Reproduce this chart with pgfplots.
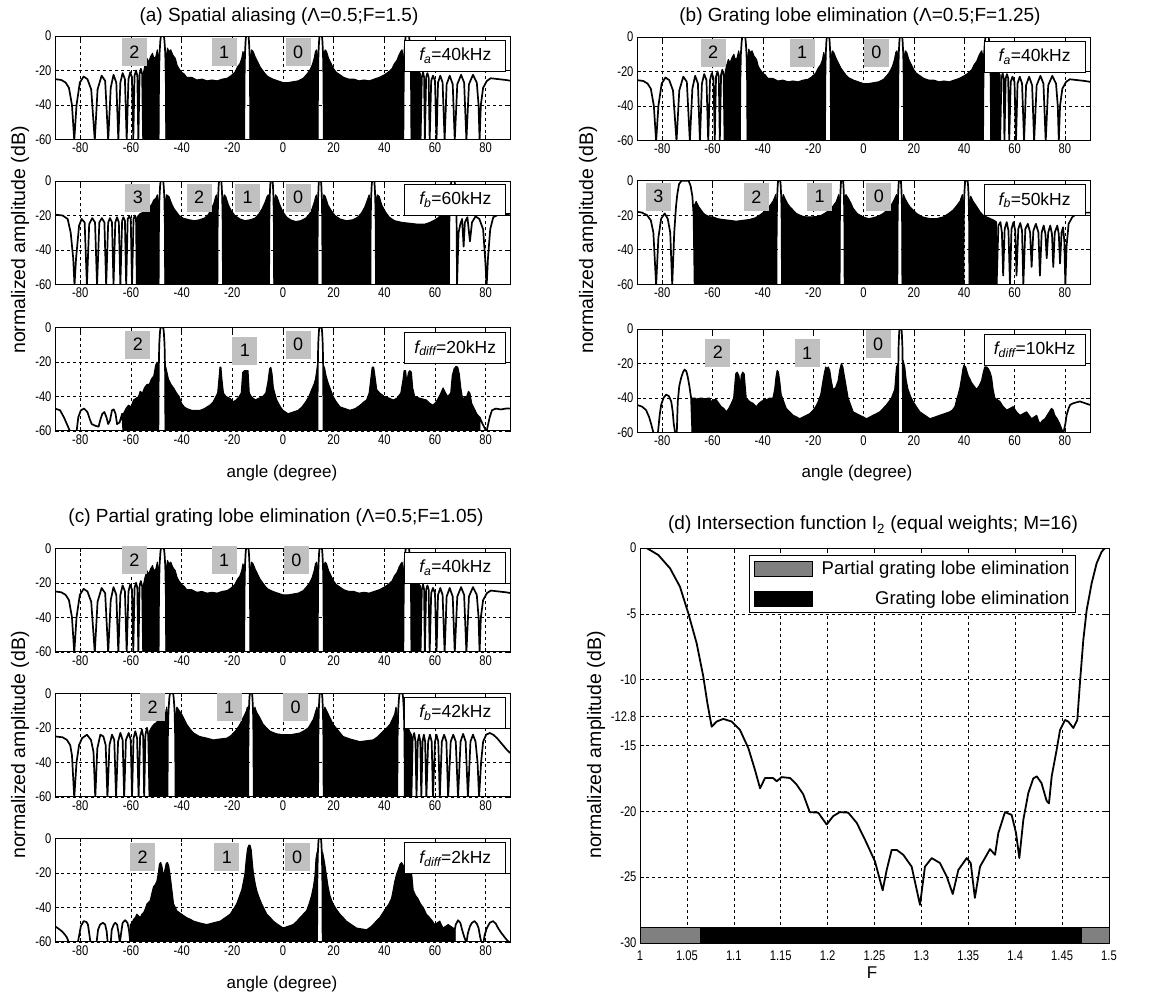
\documentclass[border=0pt]{standalone}
\usepackage{pgfplots}
\pgfplotsset{compat=1.18}
\usepackage{fontspec}
\setmainfont{Liberation Sans}
\newfontfamily\tickfam[FakeStretch=0.8]{Liberation Sans}
\newcommand\tickfont{\tickfam\fontsize{14}{15}\selectfont}
\definecolor{boxgray}{RGB}{192,192,192}
\definecolor{bargray}{RGB}{128,128,128}

\pgfplotsset{
  beam/.style={scale only axis, width=456pt, height=103.5pt,
    xmin=-90, xmax=90, ymin=-60, ymax=0,
    xtick={-80,-60,-40,-20,0,20,40,60,80}, xticklabels={-80,-60,-40,-20,0,20,40,60,80},
    ytick={-60,-40,-20,0}, yticklabels={-60,-40,-20,0},
    grid=major, grid style={black, line width=0.6pt, dash pattern=on 3pt off 3pt},
    axis line style={black, line width=1pt}, tick style={black, line width=0.6pt},
    major tick length=4pt, tick align=inside,
    ticklabel style={font=\tickfont, text=black},
    clip mode=individual},
  lobe/.style={black, line width=1.7pt, line join=round, mark=none},
  dense/.style={black, fill=black, line width=1pt, line join=round, mark=none},
}
\tikzset{
  lgd/.style={draw=black, fill=white, line width=0.9pt, minimum width=101pt, minimum height=31pt, inner sep=0pt, font=\fontsize{17.5}{18}\selectfont},
  nb/.style={fill=boxgray, minimum width=25pt, minimum height=28pt, inner sep=0pt, font=\fontsize{18}{18}\selectfont},
  ttl/.style={font=\fontsize{19}{22}\selectfont},
  xl/.style={font=\fontsize{17}{20}\selectfont},
  yl/.style={font=\fontsize{19.5}{22}\selectfont, rotate=90},
}

% ---------- pattern at 40 kHz (panels a, b, c top) ----------
\newcommand\fortykhz{%
\addplot[dense] coordinates {(-55.2,-60)(-55.2,-22)(-54.5,-17)(-53.7,-13)(-53,-15)(-52.3,-12)(-51.5,-10)(-51,-13)(-50.2,-12)(-49.6,-8)(-49.1,-12)(-49.1,-60)};
\addplot[dense] coordinates {(-46.1,-60)(-46.1,-12)(-45.6,-7)(-45,-9)(-44.3,-8)(-43.5,-11)(-42.5,-13)(-41.8,-17)(-41,-19)(-40,-21)(-39,-22)(-38,-24)(-36,-24)(-34,-25.5)(-32,-25)(-30,-26)(-28,-25.5)(-26,-26)(-24,-25)(-22,-24.5)(-20.5,-23)(-19,-21)(-18,-18)(-17,-16)(-16.3,-13)(-15.8,-9)(-15.3,-12)(-15.3,-60)};
\addplot[dense] coordinates {(-12.9,-60)(-12.9,-12)(-12.4,-8)(-11.8,-9)(-11,-12)(-10,-15)(-9,-18)(-8,-20)(-7,-22)(-6,-23.5)(-4,-25)(-2,-26)(0,-27)(2,-27)(4,-26.5)(6,-26)(8,-24.5)(9.5,-22)(10.5,-20)(11.5,-17)(12.3,-13)(12.8,-9)(13.3,-8)(13.7,-12)(13.7,-60)};
\addplot[dense] coordinates {(16.1,-60)(16.1,-12)(16.6,-8)(17.2,-9)(18,-13)(19,-16)(20,-19)(21,-21)(22,-22)(24,-24)(26,-25)(28,-25)(30,-26)(32,-25.5)(34,-26)(36,-25)(38,-24)(40,-22.5)(41.5,-21)(43,-19)(44,-16)(45,-14)(45.8,-11)(46.5,-9)(47,-8)(47.5,-12)(47.5,-60)};
\addplot[dense] coordinates {(50.7,-60)(50.7,-10)(51.6,-14)(52.5,-18)(53.5,-20)(54.3,-22)(54.3,-60)};
\addplot[lobe] coordinates {(-90,-25)(-87.5,-25.5)(-85.8,-27)(-84.5,-30)(-83.3,-40)(-82.4,-60.5)(-81.5,-40)(-80.2,-27)(-78.7,-23.5)(-77.2,-25)(-75.7,-31)(-74.3,-60.5)(-73.2,-31)(-71.6,-23)(-70.2,-26)(-69,-60.5)(-68,-30)(-66.9,-22.5)(-65.8,-27)(-65,-60.5)(-64.2,-27)(-63.3,-21.5)(-62.4,-25)(-61.7,-60.5)(-61,-25)(-60.3,-21)(-59.6,-24)(-59.1,-60.5)(-58.6,-23)(-58,-20)(-57.5,-23)(-57.1,-60.5)(-56.6,-22)(-56.1,-19)(-55.6,-22)(-55.2,-60.5)(-49.1,-60.5)(-48.95,-25)(-48.725,-10)(-48.425,-3)(-48.2,0)(-47.0,0)(-46.775,-3)(-46.475,-10)(-46.25,-25)(-46.1,-60.5)(-15.3,-60.5)(-15.18,-25)(-15.0,-10)(-14.76,-3)(-14.58,0)(-13.62,0)(-13.44,-3)(-13.2,-10)(-13.02,-25)(-12.9,-60.5)(13.7,-60.5)(13.82,-25)(14.0,-10)(14.24,-3)(14.42,0)(15.38,0)(15.56,-3)(15.8,-10)(15.98,-25)(16.1,-60.5)(47.5,-60.5)(47.66,-25)(47.9,-10)(48.22,-3)(48.46,0)(49.74,0)(49.98,-3)(50.3,-10)(50.54,-25)(50.7,-60.5)(54.3,-60.5)(54.8,-24)(55.3,-21)(55.7,-24)(56,-60.5)(56.5,-24)(57,-21.5)(57.5,-24)(57.9,-60.5)(58.5,-26)(59.2,-23)(60,-26)(60.6,-60.5)(61.2,-27)(62.1,-23)(63,-27)(63.8,-60.5)(64.6,-28)(65.8,-23)(67,-28)(67.8,-60.5)(68.8,-28)(70.3,-22.5)(71.5,-27)(72.4,-60.5)(73.4,-28)(75,-22.5)(76.5,-27)(77.2,-40)(77.6,-60.5)(78.1,-40)(79,-30)(80.5,-26)(82,-24.5)(85,-25)(88,-25.5)(90,-26)};
}

\begin{document}
\begin{tikzpicture}
\path[use as bounding box] (0pt,0pt) rectangle (1162pt,-991pt);

% ================= (a) =================
\node[ttl] at (279pt,-17pt) {(a) Spatial aliasing (Λ=0.5;F=1.5)};
\begin{axis}[beam, at={(55pt,-36pt)}, anchor=north west]
\fortykhz
\node[nb] at (axis cs:-58.7,-9.5) {2};
\node[nb] at (axis cs:-23.2,-9.5) {1};
\node[nb] at (axis cs:6.0,-9.5) {0};
\node[lgd] at (axis cs:68,-11.3) {{\itshape f}\textsubscript{\itshape a}=40kHz};
\end{axis}

\begin{axis}[beam, at={(55pt,-181pt)}, anchor=north west]
\addplot[dense] coordinates {(-57.7,-60)(-57.7,-21)(-56.5,-19)(-55,-18)(-53.5,-16)(-52,-14)(-51,-11)(-50.2,-10)(-49.6,-8)(-49.1,-12)(-49.1,-60)};
\addplot[dense] coordinates {(-46.5,-60)(-46.5,-12)(-46,-8)(-45,-9)(-44,-13)(-43,-16)(-42,-18)(-41,-20)(-39.5,-21.5)(-37,-22.5)(-35,-23)(-33,-22.5)(-31,-21.5)(-29.5,-19.5)(-28.3,-16)(-27.3,-13)(-26.6,-9)(-26.2,-8)(-25.9,-12)(-25.9,-60)};
\addplot[dense] coordinates {(-23.7,-60)(-23.7,-12)(-23.2,-8)(-22.6,-9)(-21.5,-14)(-20.5,-17)(-19,-20)(-17,-22)(-15,-23)(-13,-22.5)(-11,-21.5)(-9.5,-19)(-8.2,-16)(-7,-12)(-6.3,-9)(-5.8,-8)(-5.5,-12)(-5.5,-60)};
\addplot[dense] coordinates {(-3.5,-60)(-3.5,-12)(-3,-8)(-2.4,-9)(-1.2,-14)(0,-18)(1.5,-21)(3,-22.5)(5,-23.5)(7,-23)(9,-21.5)(10.5,-19)(11.5,-16)(12.4,-12)(12.9,-9)(13.3,-8)(13.6,-12)(13.6,-60)};
\addplot[dense] coordinates {(15.6,-60)(15.6,-12)(16.1,-8)(16.7,-9)(17.8,-14)(19,-17)(20.5,-20)(22.5,-22)(25,-23)(27.5,-22.5)(29.5,-21)(31,-18.5)(32.3,-15)(33.3,-11)(34,-8)(34.5,-12)(34.5,-60)};
\addplot[dense] coordinates {(36.7,-60)(36.7,-12)(37.2,-8)(38,-9)(39,-14)(40.5,-18)(42,-21)(44,-23)(47,-24)(50,-24.5)(53,-25)(56,-25)(58,-24)(60,-22.5)(61.5,-21)(62.8,-18)(63.8,-14)(64.5,-10)(65,-8)(65.5,-12)(65.5,-60)};
\addplot[lobe] coordinates {(-90,-19.5)(-87,-20)(-85,-22)(-83.8,-30)(-82.8,-45)(-82.3,-60.5)(-81.7,-45)(-80.5,-26)(-79.5,-22)(-78.3,-24)(-77.4,-60.5)(-76.5,-25)(-75.3,-21.5)(-74.2,-24)(-73.4,-60.5)(-72.5,-24)(-71.5,-21.5)(-70.5,-24)(-69.8,-60.5)(-69,-24)(-68.3,-21.5)(-67.5,-24)(-66.9,-60.5)(-66.2,-24)(-65.5,-21)(-64.8,-24)(-64.2,-60.5)(-63.5,-23)(-63,-21)(-62.4,-23)(-61.9,-60.5)(-61.3,-22)(-60.7,-20.5)(-60.1,-22)(-59.6,-60.5)(-59,-22)(-58.5,-20)(-58,-22)(-57.7,-60.5)(-49.1,-60.5)(-48.97,-25)(-48.775,-10)(-48.515,-3)(-48.32,0)(-47.28,0)(-47.085,-3)(-46.825,-10)(-46.63,-25)(-46.5,-60.5)(-25.9,-60.5)(-25.79,-25)(-25.625,-10)(-25.405,-3)(-25.24,0)(-24.36,0)(-24.195,-3)(-23.975,-10)(-23.81,-25)(-23.7,-60.5)(-5.5,-60.5)(-5.4,-25)(-5.25,-10)(-5.05,-3)(-4.9,0)(-4.1,0)(-3.95,-3)(-3.75,-10)(-3.6,-25)(-3.5,-60.5)(13.6,-60.5)(13.7,-25)(13.85,-10)(14.05,-3)(14.2,0)(15,0)(15.15,-3)(15.35,-10)(15.5,-25)(15.6,-60.5)(34.5,-60.5)(34.61,-25)(34.775,-10)(34.995,-3)(35.16,0)(36.04,0)(36.205,-3)(36.425,-10)(36.59,-25)(36.7,-60.5)(65.5,-60.5)(65.66,-25)(65.9,-10)(66.22,-3)(66.46,0)(67.74,0)(67.98,-3)(68.3,-10)(68.54,-25)(68.7,-60.5)(69.3,-30)(70,-25)(70.7,-22)(71.3,-38)(71.8,-24)(72.8,-21)(73.8,-35)(74.6,-24)(76,-20.5)(77.5,-22)(79,-28)(79.8,-45)(80.4,-60.5)(80.9,-45)(81.8,-28)(83,-21)(85,-19.5)(90,-19)};
\node[nb] at (axis cs:-57.3,-9.6) {3};
\node[nb] at (axis cs:-33.1,-9.6) {2};
\node[nb] at (axis cs:-14,-9.6) {1};
\node[nb] at (axis cs:6.0,-9.6) {0};
\node[lgd] at (axis cs:68,-11.1) {{\itshape f}\textsubscript{\itshape b}=60kHz};
\end{axis}

\begin{axis}[beam, at={(55pt,-327.5pt)}, anchor=north west]
\addplot[dense] coordinates {(-63,-60)(-63,-50)(-62,-47)(-61,-45)(-60,-46)(-59,-42)(-58,-41)(-57,-40)(-56.4,-37)(-55.5,-38)(-54.7,-35)(-53.7,-33)(-52.8,-33)(-52,-30)(-51,-28)(-50.3,-22)(-49.7,-20)(-49.2,-25)(-49.2,-60)};
\addplot[dense] coordinates {(-46.4,-60)(-46.4,-22)(-45.8,-26)(-45.2,-30)(-44.2,-33)(-43.2,-35)(-42,-38)(-41,-40)(-40,-44)(-39,-46)(-38,-47)(-36,-48)(-34,-48)(-32.7,-48)(-31,-47)(-30,-46)(-28.8,-45)(-27.5,-43)(-26.5,-40)(-25.8,-38)(-25.3,-30)(-24.9,-23)(-24.5,-23)(-24.1,-30)(-23.5,-38)(-22.5,-40)(-21,-41)(-19.6,-43)(-18.5,-42)(-17.3,-40)(-16.5,-38)(-15.9,-26)(-15.2,-25)(-14.5,-25)(-13.8,-25)(-13.3,-38)(-12.5,-40)(-11,-42)(-9.5,-41)(-8,-40)(-6.8,-38)(-6,-32)(-5.3,-24)(-4.8,-23)(-4.3,-27)(-3.8,-35)(-2.5,-42)(-1,-46)(0,-48)(2,-50)(4,-49)(6,-48)(7.5,-46)(9,-43)(10.2,-40)(11.3,-36)(12.2,-33)(12.8,-30)(13.3,-25)(13.6,-22)(13.6,-60)};
\addplot[dense] coordinates {(16,-60)(16,-22)(16.5,-24)(17,-28)(17.8,-32)(18.8,-36)(19.8,-40)(21,-43)(22.5,-46)(24.5,-47)(26.4,-48)(28.5,-47)(30.5,-45)(32,-43)(33,-42)(34,-38)(34.8,-28)(35.2,-23)(35.8,-23)(36.3,-28)(37,-36)(38.2,-38)(40,-40)(42,-41)(43.5,-42)(45,-41)(46.5,-38)(47.4,-30)(47.8,-25)(48.4,-25)(48.9,-32)(49.5,-26)(50.1,-25)(50.7,-26)(51.2,-35)(52,-40)(54,-41)(56.6,-42)(58,-44)(59.2,-45)(60.5,-43)(62,-39)(63.2,-35)(64.2,-38)(65,-40)(66.2,-38)(66.8,-28)(67.5,-24)(68.3,-22.5)(69,-23)(69.6,-27)(70.2,-35)(71,-42)(71.7,-40)(72.5,-40)(73.2,-37)(73.8,-38)(74.5,-44)(75.5,-47)(76.5,-50)(77.6,-52)(77.6,-60)};
\addplot[lobe] coordinates {(-90,-47)(-88,-48)(-86.5,-52)(-85,-57)(-84,-60.5)(-81.5,-60.5)(-80.8,-52)(-79.8,-48)(-78.5,-47)(-77.2,-49)(-76.3,-53)(-75.5,-56)(-74,-57)(-72.8,-57.5)(-72,-53)(-71.3,-50)(-70.5,-49)(-69.7,-52)(-69,-56)(-68.3,-54)(-67.5,-48)(-66.8,-47.5)(-66.1,-50)(-65.5,-56)(-64.5,-55)(-63.5,-50)(-63,-60.5)(-49.2,-60.5)(-49.06,-25)(-48.85,-10)(-48.57,-3)(-48.36,0)(-47.24,0)(-47.03,-3)(-46.75,-10)(-46.54,-25)(-46.4,-60.5)(13.6,-60.5)(13.72,-25)(13.9,-10)(14.14,-3)(14.32,0)(15.28,0)(15.46,-3)(15.7,-10)(15.88,-25)(16,-60.5)(77.6,-60.5)(77.6,-52)(78.5,-55)(79.5,-58)(80.3,-60.5)(81,-56)(81.6,-52)(82.5,-48)(84,-47)(86,-47.5)(88,-47)(90,-47)};
\node[nb] at (axis cs:-57.3,-9.9) {2};
\node[nb] at (axis cs:-15,-13.4) {1};
\node[nb] at (axis cs:6.0,-9.9) {0};
\node[lgd] at (axis cs:68,-12) {{\itshape f}\textsubscript{\itshape diff}=20kHz};
\end{axis}
\node[yl] at (20pt,-240pt) {normalized amplitude (dB)};
\node[xl] at (282pt,-473pt) {angle (degree)};

% ================= (b) =================
\node[ttl] at (860pt,-17pt) {(b) Grating lobe elimination (Λ=0.5;F=1.25)};
\begin{axis}[beam, width=453pt, at={(637pt,-37pt)}, anchor=north west]
\fortykhz
\node[nb] at (axis cs:-59.8,-9.1) {2};
\node[nb] at (axis cs:-24.4,-9.1) {1};
\node[nb] at (axis cs:5.1,-9.1) {0};
\node[lgd] at (axis cs:68,-11.3) {{\itshape f}\textsubscript{\itshape a}=40kHz};
\end{axis}

\begin{axis}[beam, width=453pt, at={(637pt,-180.7pt)}, anchor=north west]
\addplot[dense] coordinates {(-67.1,-60)(-67.1,-14)(-66.5,-12)(-65.5,-15)(-64.5,-17)(-63.5,-19)(-62.5,-20)(-61,-21)(-59.8,-21)(-58,-22)(-55.9,-22.5)(-53,-23)(-50.6,-23.5)(-48,-23)(-45.3,-22.5)(-43,-21.5)(-41.3,-20)(-39.5,-18)(-38,-16)(-37,-14)(-36,-12)(-35.4,-10)(-34.9,-8)(-34.6,-12)(-34.6,-60)};
\addplot[dense] coordinates {(-32.4,-60)(-32.4,-12)(-31.9,-8)(-31.3,-10)(-30.3,-13)(-29.3,-15)(-28,-17)(-26.7,-19)(-24.5,-20.5)(-22.7,-21)(-20,-21)(-17.4,-20.5)(-15.5,-19)(-13.4,-17)(-12,-14.5)(-10.8,-12)(-10.1,-9)(-9.8,-8)(-9.5,-12)(-9.5,-60)};
\addplot[dense] coordinates {(-7.5,-60)(-7.5,-12)(-7,-8)(-6.1,-10)(-5,-13)(-4.1,-16)(-2.5,-19)(-0.2,-21)(2,-22)(3.8,-21.5)(6,-20.5)(7.8,-19)(9.5,-17)(11.1,-14)(12.2,-11)(12.8,-9)(13.2,-8)(13.45,-12)(13.45,-60)};
\addplot[dense] coordinates {(15.45,-60)(15.45,-12)(15.9,-8)(16.4,-10)(17.5,-13)(18.4,-15)(19.7,-17)(21.1,-19)(23.5,-21)(26.4,-22)(29,-22)(31.7,-21)(33.8,-19)(35.6,-17)(37,-14.5)(38.3,-12)(38.9,-9.5)(39.3,-8)(39.7,-12)(39.7,-60)};
\addplot[dense] coordinates {(42.1,-60)(42.1,-12)(42.6,-9)(43.6,-12)(45,-15)(46.3,-18)(47.5,-20)(48.9,-21)(50.5,-22)(52,-23)(52.9,-24)(52.9,-60)};
\addplot[lobe] coordinates {(-90,-18)(-88,-18.5)(-86,-20)(-84.5,-23)(-83.5,-30)(-82.4,-60.5)(-81.5,-33)(-80.4,-22)(-79,-19)(-77.8,-22)(-76.8,-30)(-76,-60.5)(-75.2,-30)(-74.5,-15)(-74,-8)(-73.3,-2)(-72.3,0)(-69.5,0)(-68.7,-3)(-68,-9)(-67.5,-20)(-67.1,-60.5)(-34.6,-60.5)(-34.49,-25)(-34.325,-10)(-34.105,-3)(-33.94,0)(-33.06,0)(-32.895,-3)(-32.675,-10)(-32.51,-25)(-32.4,-60.5)(-9.5,-60.5)(-9.4,-25)(-9.25,-10)(-9.05,-3)(-8.9,0)(-8.1,0)(-7.95,-3)(-7.75,-10)(-7.6,-25)(-7.5,-60.5)(13.45,-60.5)(13.55,-25)(13.7,-10)(13.9,-3)(14.05,0)(14.85,0)(15,-3)(15.2,-10)(15.35,-25)(15.45,-60.5)(39.7,-60.5)(39.82,-25)(40,-10)(40.24,-3)(40.42,0)(41.38,0)(41.56,-3)(41.8,-10)(41.98,-25)(42.1,-60.5)(52.9,-60.5)(53.6,-26)(54.4,-24)(55,-30)(55.5,-55)(56.1,-28)(56.9,-24)(57.6,-29)(58.2,-60.5)(58.8,-28)(59.6,-24)(60.3,-29)(60.8,-55)(61.5,-28)(62.3,-24.5)(63,-29)(63.5,-60.5)(64.3,-28)(65.3,-25)(66.2,-30)(66.8,-50)(67.5,-29)(68.5,-25)(69.5,-30)(70.1,-55)(70.8,-30)(71.6,-26)(72.3,-31)(72.8,-45)(73.4,-30)(74.2,-26)(74.9,-31)(75.4,-50)(76,-30)(77,-26)(77.6,-31)(78.1,-48)(78.7,-30)(79.3,-27)(79.8,-35)(80.2,-60.5)(80.7,-38)(81.5,-25)(83,-21)(85,-19)(88,-18.5)(90,-18.5)};
\node[nb] at (axis cs:-81.5,-9.3) {3};
\node[nb] at (axis cs:-42.6,-9.3) {2};
\node[nb] at (axis cs:-17.4,-9.3) {1};
\node[nb] at (axis cs:6.1,-9.3) {0};
\node[lgd] at (axis cs:68,-11.3) {{\itshape f}\textsubscript{\itshape b}=50kHz};
\end{axis}

\begin{axis}[beam, width=453pt, at={(637pt,-329pt)}, anchor=north west]
\addplot[dense] coordinates {(-68,-60)(-68,-40)(-67,-40)(-66,-41)(-65,-40)(-64,-40)(-63,-41)(-62,-40)(-61.2,-40)(-60.5,-42)(-59.5,-41)(-58.5,-41)(-57.5,-43)(-56.5,-45)(-55.5,-46)(-54.5,-48)(-53.5,-46)(-52.5,-43)(-51.6,-40)(-51.2,-33)(-50.8,-26)(-50.2,-25)(-49.5,-27)(-49,-33)(-48.6,-27)(-48,-25)(-47.4,-26)(-47,-33)(-46.6,-40)(-45.3,-42)(-44,-43)(-42.6,-45)(-41.5,-43)(-40.6,-42)(-39.5,-41)(-38.6,-41)(-37.3,-40)(-36,-40)(-35.3,-35)(-34.8,-28)(-34.3,-24)(-33.8,-25)(-33.3,-30)(-32.7,-38)(-31.7,-42)(-30.7,-46)(-29.3,-48)(-28,-50)(-26.5,-51)(-25.4,-52)(-24,-51)(-22.7,-50)(-21.3,-49)(-20,-47)(-19,-45)(-18,-42)(-17,-38)(-16.1,-30)(-15.5,-25)(-15,-22)(-14.5,-23)(-14,-22)(-13.4,-24)(-12.8,-30)(-12.1,-35)(-11.1,-34)(-10.1,-30)(-9.5,-24)(-8.8,-20)(-8.2,-22)(-7.5,-28)(-6.8,-34)(-6.1,-40)(-5.1,-44)(-4.1,-48)(-2.8,-49)(-1.5,-50)(0,-51)(1.2,-52)(2.5,-51)(3.8,-50)(5.2,-49)(6.5,-48)(7.8,-46)(9.1,-44)(10.1,-42)(11.1,-40)(12.4,-35)(13.1,-22)(13.7,-20)(13.7,-60)};
\addplot[dense] coordinates {(15.7,-60)(15.7,-18)(16.4,-22)(17,-30)(17.7,-35)(18.7,-39)(19.7,-42)(21,-45)(22.4,-48)(24.4,-50)(26.4,-52)(28.4,-51)(30.3,-50)(32.3,-49)(34.3,-48)(35.3,-47)(36.3,-45)(37,-41)(37.6,-38)(38.3,-34)(39,-28)(39.5,-23)(39.9,-21)(40.6,-22)(41.6,-27)(42.3,-29)(42.9,-31)(43.9,-33)(44.9,-35)(45.9,-33)(46.9,-30)(47.6,-25)(48.2,-22)(48.9,-22)(49.6,-23)(50.3,-25)(50.9,-28)(51.5,-35)(52.2,-40)(53.2,-41)(54.2,-42)(55.5,-45)(56.9,-47)(58.2,-46)(59.5,-45)(60.8,-48)(62.2,-50)(63.5,-49)(64.8,-48)(65.8,-50)(66.8,-52)(67.8,-51)(68.8,-50)(69.5,-53)(70.1,-55)(71.1,-53)(72.1,-52)(73.4,-49)(74.7,-46)(75.4,-47)(76,-50)(77,-52)(78,-55)(78.8,-58)(79.4,-60)};
\addplot[lobe] coordinates {(-90,-44)(-88,-45)(-86.4,-47)(-85.2,-51)(-84.4,-55)(-83.4,-60.5)(-81.7,-60.5)(-81,-50)(-80.4,-44)(-79.5,-40)(-78.4,-38)(-77.3,-39)(-76.4,-42)(-75.8,-48)(-75.4,-55)(-74.8,-60.5)(-74.2,-60.5)(-73.8,-42)(-73.2,-33)(-72.4,-28)(-71.7,-25)(-71.1,-23.5)(-70.4,-24.5)(-69.8,-28)(-69.2,-33)(-68.5,-40)(-68,-60.5)(13.7,-60.5)(13.8,-25)(13.95,-10)(14.15,-3)(14.3,0)(15.1,0)(15.25,-3)(15.45,-10)(15.6,-25)(15.7,-60.5)(79.4,-60.5)(80.2,-55)(80.7,-50)(81.5,-46)(82.1,-44)(83.4,-43)(86,-42)(88,-43)(90,-44)};
\node[nb] at (axis cs:-57.9,-13.7) {2};
\node[nb] at (axis cs:-22.4,-14) {1};
\node[nb] at (axis cs:5.8,-8.7) {0};
\node[lgd] at (axis cs:68,-12) {{\itshape f}\textsubscript{\itshape diff}=10kHz};
\end{axis}
\node[yl] at (588pt,-240pt) {normalized amplitude (dB)};
\node[xl] at (857pt,-473pt) {angle (degree)};

% ================= (c) =================
\node[ttl] at (276pt,-518pt) {(c) Partial grating lobe elimination (Λ=0.5;F=1.05)};
\begin{axis}[beam, at={(55pt,-548.3pt)}, anchor=north west]
\fortykhz
\node[nb] at (axis cs:-58.7,-7) {2};
\node[nb] at (axis cs:-23.2,-7) {1};
\node[nb] at (axis cs:5.3,-7) {0};
\node[lgd] at (axis cs:68,-11.3) {{\itshape f}\textsubscript{\itshape a}=40kHz};
\end{axis}

\begin{axis}[beam, at={(55pt,-693.3pt)}, anchor=north west]
\addplot[dense] coordinates {(-52.7,-60)(-52.7,-22)(-52,-20)(-51,-18)(-50,-17)(-49,-15)(-48,-14)(-47,-12)(-46.3,-11)(-45.9,-8)(-45.6,-12)(-45.6,-60)};
\addplot[dense] coordinates {(-42.4,-60)(-42.4,-12)(-41.9,-8)(-41,-10)(-40,-12)(-39,-15)(-38,-18)(-36.5,-21)(-35.3,-23)(-33,-25)(-30,-26)(-27.5,-27)(-25,-26.5)(-22.2,-26)(-20.5,-24.5)(-19.6,-23)(-18.3,-21)(-17,-18)(-16,-15)(-15,-12)(-14.4,-10)(-14.1,-8)(-13.75,-12)(-13.75,-60)};
\addplot[dense] coordinates {(-11.55,-60)(-11.55,-12)(-11.1,-8)(-10.4,-11)(-9.2,-14)(-7.8,-18)(-6.5,-20)(-5.1,-22)(-2.5,-23.5)(0.1,-24)(3,-24)(6.7,-23)(8.5,-21.5)(10,-20)(11,-17.5)(12,-15)(12.8,-11)(13.4,-8)(13.85,-12)(13.85,-60)};
\addplot[dense] coordinates {(16.05,-60)(16.05,-12)(16.5,-8)(17.2,-10)(18.5,-14)(19.8,-18)(21.5,-21)(23.7,-25)(26.5,-26.5)(30.3,-28)(33,-27.5)(35.6,-27)(37.5,-25)(39.5,-22)(41,-20)(42.2,-18)(43.2,-15)(44.1,-12)(44.6,-8)(45.1,-12)(45.1,-60)};
\addplot[dense] coordinates {(48.1,-60)(48.1,-12)(48.6,-14)(49.4,-20)(50,-22)(50.7,-24)(50.7,-60)};
\addplot[lobe] coordinates {(-90,-25)(-87,-25.5)(-85.3,-27)(-84,-30)(-83.3,-36)(-82.4,-60.5)(-81.5,-40)(-80.5,-30)(-79.3,-26)(-77.4,-24)(-75.8,-27)(-74.8,-34)(-74.1,-60.5)(-73.3,-32)(-72.1,-24)(-70.9,-25)(-70,-30)(-69.3,-60.5)(-68.5,-30)(-67.5,-24)(-66.6,-27)(-65.9,-60.5)(-65.1,-28)(-64.2,-23)(-63.3,-27)(-62.7,-60.5)(-62,-27)(-60.9,-23)(-60.1,-27)(-59.6,-60.5)(-59,-26)(-58.3,-22)(-57.6,-26)(-57,-60.5)(-56.4,-25)(-55.7,-21)(-55.2,-25)(-54.8,-60.5)(-54.3,-24)(-53.7,-20)(-53.2,-24)(-52.7,-60.5)(-45.6,-60.5)(-45.44,-25)(-45.2,-10)(-44.88,-3)(-44.64,0)(-43.36,0)(-43.12,-3)(-42.8,-10)(-42.56,-25)(-42.4,-60.5)(-13.75,-60.5)(-13.64,-25)(-13.475,-10)(-13.255,-3)(-13.09,0)(-12.21,0)(-12.045,-3)(-11.825,-10)(-11.66,-25)(-11.55,-60.5)(13.85,-60.5)(13.96,-25)(14.125,-10)(14.345,-3)(14.51,0)(15.39,0)(15.555,-3)(15.775,-10)(15.94,-25)(16.05,-60.5)(45.1,-60.5)(45.25,-25)(45.475,-10)(45.775,-3)(46,0)(47.2,0)(47.425,-3)(47.725,-10)(47.95,-25)(48.1,-60.5)(50.7,-60.5)(51.2,-26)(51.8,-23)(52.3,-28)(52.7,-60.5)(53.2,-28)(53.7,-24)(54.2,-28)(54.6,-60.5)(55.1,-28)(55.6,-24)(56.1,-28)(56.6,-60.5)(57.3,-28)(58,-24)(58.7,-28)(59.2,-60.5)(60,-28)(60.6,-24)(61.3,-28)(61.9,-60.5)(62.7,-28)(63.6,-24)(64.5,-28)(65.2,-60.5)(66.2,-28)(67.2,-24)(68.2,-28)(69.1,-60.5)(70.1,-28)(71.1,-23.5)(72.1,-28)(73,-60.5)(74,-28)(75,-24)(76,-28)(76.8,-40)(77.4,-60.5)(78.2,-40)(79,-28)(80.2,-24)(81.6,-23)(83,-24)(84.5,-26)(86.5,-29.5)(88.5,-33)(90,-35)};
\node[nb] at (axis cs:-51.5,-8.1) {2};
\node[nb] at (axis cs:-21.3,-8.1) {1};
\node[nb] at (axis cs:5.0,-8.1) {0};
\node[lgd] at (axis cs:68,-11.3) {{\itshape f}\textsubscript{\itshape b}=42kHz};
\end{axis}

\begin{axis}[beam, at={(55pt,-838.3pt)}, anchor=north west]
\addplot[dense] coordinates {(-60.3,-60)(-60.3,-50)(-59.6,-49)(-59,-47)(-58.3,-46)(-57.7,-44)(-57,-45)(-56.4,-46)(-55.7,-44)(-55,-43)(-54.4,-41)(-53.7,-38)(-53,-37)(-52.4,-36)(-51.8,-32)(-51.1,-28)(-50.5,-27)(-49.8,-25)(-49.2,-20)(-48.8,-15)(-48.3,-14)(-47.8,-16)(-47.2,-22)(-46.6,-18)(-46.1,-14.5)(-45.6,-14)(-45.1,-16)(-44.5,-22)(-44,-28)(-43.2,-38)(-42.5,-40)(-41.9,-42)(-41,-43)(-40,-44)(-39,-45)(-38,-46)(-36.5,-47)(-35.3,-48)(-33,-49)(-30.1,-50)(-27.5,-49)(-24.8,-48)(-22.8,-46)(-20.9,-44)(-19.5,-41)(-18.3,-38)(-17.3,-34)(-16.3,-30)(-15.6,-25)(-15,-20)(-14.5,-12)(-14,-6)(-13.5,-4)(-13,-4)(-12.5,-7)(-12.1,-14)(-11.7,-20)(-11,-26)(-10.4,-30)(-9.5,-34)(-8.4,-38)(-7.4,-41)(-6.4,-44)(-5,-46)(-3.8,-48)(-2,-50)(0.1,-52)(2,-51)(4,-50)(5.5,-48)(6.7,-46)(8,-44)(9.3,-42)(10.3,-38)(11.3,-33)(12,-28)(12.6,-22)(13,-12)(13.45,-8)(13.45,-60)};
\addplot[dense] coordinates {(15.65,-60)(15.65,-8)(16.4,-14)(17.2,-22)(17.8,-28)(18.5,-33)(19.2,-36)(19.8,-38)(21,-41)(22.5,-44)(23.8,-46)(25,-48)(27,-50)(29,-52)(31,-52.5)(33,-53)(34.5,-51.5)(35.6,-50)(36.8,-48)(38.2,-46)(39.5,-43)(40.9,-40)(41.8,-38)(42.8,-35)(43.5,-30)(44.1,-25)(44.8,-21)(45.5,-18)(46.2,-15)(46.8,-14)(47.6,-16)(48.3,-22)(49,-18)(49.7,-14)(50.3,-16)(50.9,-22)(51.4,-30)(52.3,-33)(53.3,-35)(54.3,-38)(55.3,-40)(56,-42)(56.6,-44)(57.3,-45)(57.9,-46)(59,-48)(59.9,-50)(60.9,-49)(61.9,-48)(62.5,-50)(63.2,-52)(64.2,-51)(65.2,-50)(66.2,-51)(67.2,-52)(67.8,-53)(67.8,-60)};
\addplot[lobe] coordinates {(-90,-51)(-88.5,-52.5)(-87.2,-54)(-86,-56)(-85.3,-57.5)(-84.5,-60.5)(-81,-60.5)(-80.3,-55)(-79.8,-51)(-78.7,-48)(-77.6,-48.5)(-77,-50)(-76.5,-55)(-76,-60.5)(-73.6,-60.5)(-73,-53)(-72.2,-50)(-71.1,-49)(-70.2,-50)(-69.6,-54)(-69.2,-60.5)(-68,-60.5)(-67.6,-53)(-66.8,-50)(-66.2,-49)(-65.5,-50)(-65,-54)(-64.4,-60.5)(-63.9,-55)(-63.3,-49)(-62.3,-47.5)(-61.4,-49)(-60.8,-53)(-60.3,-60.5)(13.45,-60.5)(13.56,-25)(13.725,-10)(13.945,-3)(14.11,0)(14.99,0)(15.155,-3)(15.375,-10)(15.54,-25)(15.65,-60.5)(67.8,-60.5)(67.8,-53)(68.2,-50)(69.1,-47.5)(70,-49)(70.7,-53)(71.5,-57)(72.4,-60.5)(73,-55)(73.8,-51)(74.6,-49)(75.6,-48)(76.5,-49.5)(77.2,-52)(77.8,-57)(78.3,-60.5)(79.2,-60)(79.6,-56)(80.5,-52)(81.6,-49)(82.9,-48)(84,-49.5)(84.9,-52)(86,-54.5)(86.8,-56)(88.1,-58.5)(89.5,-60.5)(90,-61)};
\node[nb] at (axis cs:-55.4,-11) {2};
\node[nb] at (axis cs:-22.2,-11) {1};
\node[nb] at (axis cs:5.6,-11) {0};
\node[lgd] at (axis cs:68,-11.6) {{\itshape f}\textsubscript{\itshape diff}=2kHz};
\end{axis}
\node[yl] at (20pt,-745pt) {normalized amplitude (dB)};
\node[xl] at (282pt,-984pt) {angle (degree)};

% ================= (d) =================
\node[ttl] at (873pt,-525pt) {(d) Intersection function I\textsubscript{2} (equal weights; M=16)};
\begin{axis}[at={(640pt,-548pt)}, anchor=north west, scale only axis, width=469pt, height=395pt,
  xmin=1, xmax=1.5, ymin=-30, ymax=0,
  xtick={1,1.05,1.1,1.15,1.2,1.25,1.3,1.35,1.4,1.45,1.5},
  xticklabels={1,1.05,1.1,1.15,1.2,1.25,1.3,1.35,1.4,1.45,1.5},
  ytick={-30,-25,-20,-15,-12.8,-10,-5,0},
  yticklabels={-30,-25,-20,-15,-12.8,-10,-5,0},
  grid=major, grid style={black, line width=0.6pt, dash pattern=on 3pt off 3pt},
  axis line style={black, line width=1pt}, tick style={black, line width=0.6pt},
  major tick length=4pt, tick align=inside,
  ticklabel style={font=\tickfont, text=black},
  xticklabel style={yshift=-4pt},
  legend cell align=right,
  legend style={at={(0.9296,0.982)}, anchor=north east, draw=black, line width=0.9pt,
    font=\fontsize{18.5}{20}\selectfont, inner xsep=4pt, inner ysep=4pt,
    /tikz/every odd column/.append style={column sep=7pt},
    row sep=11pt},
  legend image code/.code={\draw[#1, line width=0.8pt] (0pt,-7.5pt) rectangle (58pt,7.5pt);},
]
\addlegendimage{fill=bargray, draw=black}
\addlegendentry{Partial grating lobe elimination}
\addlegendimage{fill=black, draw=black}
\addlegendentry{Grating lobe elimination}
\addplot[black, line width=1.8pt, line join=round, mark=none] coordinates {(1.000,0)(1.007,0)(1.0195,-0.53)(1.032,-1.54)(1.0426,-2.94)(1.0515,-4.96)(1.0604,-7.24)(1.0675,-9.77)(1.0718,-11.77)(1.0764,-13.57)(1.0817,-13.18)(1.0888,-12.98)(1.0977,-13.18)(1.1066,-13.82)(1.1155,-15.2)(1.1226,-16.86)(1.128,-18.25)(1.1333,-17.47)(1.142,-17.47)(1.1457,-17.72)(1.151,-17.4)(1.16,-17.47)(1.167,-17.97)(1.174,-18.7)(1.181,-20.06)(1.19,-20.1)(1.199,-21.0)(1.206,-20.36)(1.213,-20.06)(1.222,-20.1)(1.231,-20.87)(1.24,-22.17)(1.2505,-23.8)(1.2587,-26.0)(1.263,-24.45)(1.2683,-22.93)(1.2737,-22.93)(1.2807,-23.3)(1.2896,-24.2)(1.2985,-27.1)(1.3038,-24.2)(1.311,-23.55)(1.3198,-23.93)(1.327,-24.95)(1.3334,-26.28)(1.3394,-24.45)(1.3483,-23.55)(1.3526,-23.93)(1.357,-26.57)(1.3625,-24.2)(1.3731,-22.87)(1.3785,-23.3)(1.382,-21.65)(1.3891,-20.06)(1.3962,-20.27)(1.4009,-21.65)(1.4044,-23.55)(1.4087,-20.63)(1.414,-18.6)(1.4193,-17.5)(1.423,-17.34)(1.428,-17.85)(1.4335,-19.2)(1.436,-19.4)(1.4389,-17.34)(1.4442,-15.32)(1.4478,-13.82)(1.4531,-13.06)(1.4566,-13.18)(1.462,-13.67)(1.4662,-13.06)(1.469,-10.27)(1.4726,-6.99)(1.4762,-4.71)(1.4815,-2.68)(1.4868,-1.16)(1.4922,-0.28)(1.4957,0)(1.5,0)};
\addplot[fill=bargray, draw=black, line width=0.8pt, mark=none] coordinates {(1,-30)(1,-28.85)(1.0647,-28.85)(1.0647,-30)(1,-30)};
\addplot[fill=black, draw=black, line width=0.8pt, mark=none] coordinates {(1.0647,-30)(1.0647,-28.85)(1.4709,-28.85)(1.4709,-30)(1.0647,-30)};
\addplot[fill=bargray, draw=black, line width=0.8pt, mark=none] coordinates {(1.4709,-30)(1.4709,-28.85)(1.5,-28.85)(1.5,-30)(1.4709,-30)};
\end{axis}
\node[yl] at (596pt,-745pt) {normalized amplitude (dB)};
\node[xl] at (872pt,-973pt) {F};
\end{tikzpicture}
\end{document}
